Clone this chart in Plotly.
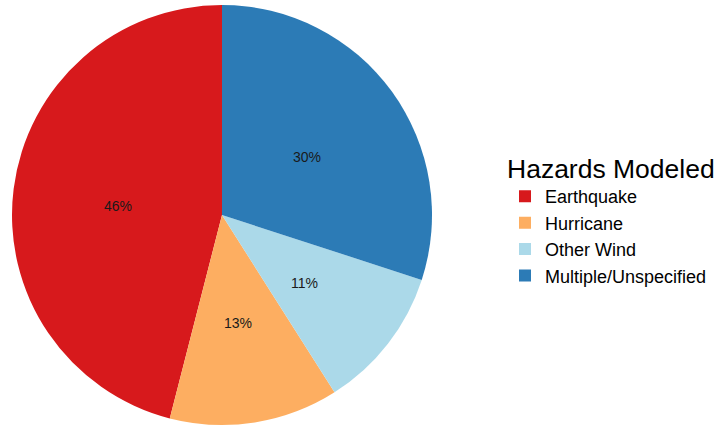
import math
import plotly.graph_objects as go

categories = ["Earthquake", "Hurricane", "Other Wind", "Multiple/Unspecified"]
values = [46, 13, 11, 30]
colors = ["#d7191c", "#fdae61", "#abd9e9", "#2c7bb6"]

W, H = 722, 430
dom_x = [10 / W, 434 / W]
dom_y = [5 / H, 425 / H]
total = sum(values)

# counterclockwise from 12 o'clock, first slice starting at the top
fig = go.Figure(go.Pie(
    labels=categories,
    values=values,
    sort=False,
    direction="counterclockwise",
    rotation=-values[0] / total * 360,
    marker=dict(colors=colors, line=dict(width=0)),
    textinfo="none",
    hoverinfo="label+percent",
    domain=dict(x=dom_x, y=dom_y),
    showlegend=True,
))

# percentage labels at half radius, mid-angle of each slice
cx = (dom_x[0] + dom_x[1]) / 2 * W
cy = (dom_y[0] + dom_y[1]) / 2 * H
R = min((dom_x[1] - dom_x[0]) * W, (dom_y[1] - dom_y[0]) * H) / 2
cum = 0
for v in values:
    mid = (cum + v / 2) / total * 2 * math.pi
    cum += v
    px = cx - 0.5 * R * math.sin(mid)
    py = cy + 0.5 * R * math.cos(mid)
    fig.add_annotation(
        x=px / W, y=py / H, xref="paper", yref="paper",
        xanchor="center", yanchor="middle", yshift=-4,
        text=f"{round(v / total * 100)}%", showarrow=False,
        font=dict(size=14, color="#1a1a1a", family="Liberation Sans, Arial"),
    )

fig.update_layout(
    width=W, height=H,
    margin=dict(l=0, r=0, t=0, b=0),
    paper_bgcolor="white",
    plot_bgcolor="white",
    font=dict(family="Liberation Sans, Arial", color="black"),
    legend=dict(
        title=dict(text="Hazards Modeled", font=dict(size=26.5)),
        font=dict(size=18),
        x=505 / W, y=0.666, xanchor="left", yanchor="top",
        tracegroupgap=0,
        itemsizing="constant",
    ),
)

fig.write_html("out.html", config={"displayModeBar": False},
               post_script="document.body.style.margin='0';")
